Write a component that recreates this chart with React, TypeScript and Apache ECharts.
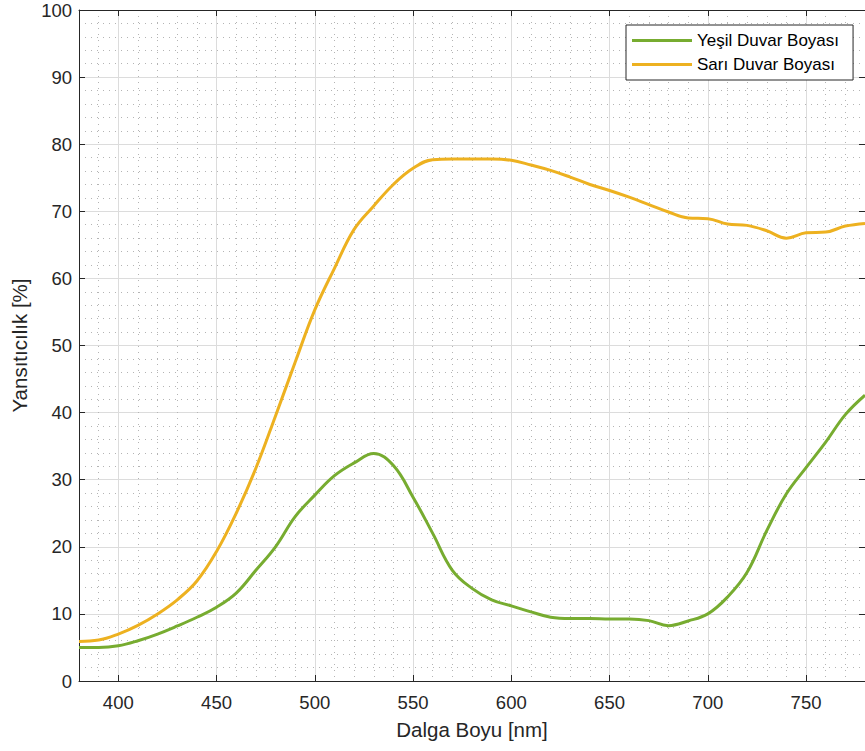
import React, { useEffect, useRef } from 'react';
import * as echarts from 'echarts';

const wavelengths = [
  380, 390, 400, 410, 420, 430, 440, 450, 460, 470, 480, 490, 500, 510, 520, 530, 540, 550, 560, 570, 580,
  590, 600, 610, 620, 630, 640, 650, 660, 670, 680, 690, 700, 710, 720, 730, 740, 750, 760, 770, 780,
];
const greenValues = [
  5.0, 5.0, 5.25, 6.0, 7.0, 8.2, 9.5, 11.0, 13.1, 16.5, 20.0, 24.5, 27.7, 30.6, 32.5, 33.9, 32.1, 27.4, 22.0, 16.5, 13.8,
  12.1, 11.2, 10.3, 9.5, 9.3, 9.3, 9.25, 9.25, 9.0, 8.25, 8.95, 10.0, 12.5, 16.2, 22.4, 27.9, 31.8, 35.6, 39.7, 42.6,
];
const yellowValues = [
  5.9, 6.1, 7.0, 8.3, 10.0, 12.1, 14.9, 19.3, 25.0, 31.7, 39.5, 47.5, 55.3, 61.5, 67.3, 70.8, 74.0, 76.4, 77.7, 77.8, 77.8,
  77.8, 77.6, 76.9, 76.1, 75.1, 74.0, 73.1, 72.1, 71.0, 69.9, 69.0, 68.9, 68.1, 67.9, 67.1, 66.0, 66.8, 66.9, 67.8, 68.2,
];
const seriesNames = ['Yeşil Duvar Boyası', 'Sarı Duvar Boyası'];
const seriesColors = ['#77AC30', '#EDB120'];
const xTitle = 'Dalga Boyu [nm]';
const yTitle = 'Yansıtıcılık [%]';
const xMin = 380;
const xMax = 780;
const yMin = 0;
const yMax = 100;
const yStep = 10;

const FONT = '"Liberation Sans", Arial, Helvetica, sans-serif';
const INK = '#262626';

export default function App() {
  const ref = useRef<HTMLDivElement>(null);
  useEffect(() => {
    if (!ref.current) return;
    const chart = echarts.init(ref.current, undefined, { renderer: 'svg' });
    const axisLine = { show: true, onZero: false, lineStyle: { color: INK, width: 1 } };
    const axisTick = { show: true, inside: true, length: 6, lineStyle: { color: INK, width: 1 } };
    const minorTick = { show: false, splitNumber: 5 };
    const majorSplit = { show: true, lineStyle: { color: '#dcdcdc', width: 1 } };
    const minorSplit = { show: true, lineStyle: { color: '#b4b4b4', width: 1, type: [1, 5] } };
    const labelStyle = { color: INK, fontSize: 18.5, fontFamily: FONT };
    const toPairs = (vals: number[]) => wavelengths.map((w, i) => [w, vals[i]]);

    chart.setOption({
      animation: false,
      backgroundColor: '#ffffff',
      grid: { left: 79, top: 10, width: 788, height: 671, containLabel: false },
      legend: {
        data: seriesNames,
        orient: 'vertical',
        left: 626,
        top: 25,
        icon: 'rect',
        itemWidth: 60,
        itemHeight: 3,
        itemGap: 7,
        padding: [7, 14, 7, 6],
        backgroundColor: '#ffffff',
        borderColor: INK,
        borderWidth: 1,
        borderRadius: 0,
        textStyle: { color: '#000000', fontSize: 17, fontFamily: FONT },
      },
      xAxis: [
        {
          type: 'value',
          position: 'bottom',
          min: xMin,
          max: xMax,
          splitNumber: 8,
          axisLine,
          axisTick,
          minorTick,
          splitLine: majorSplit,
          minorSplitLine: minorSplit,
          axisLabel: { ...labelStyle, margin: 12, showMinLabel: false, showMaxLabel: false },
          name: xTitle,
          nameLocation: 'middle',
          nameGap: 38,
          nameTextStyle: { color: INK, fontSize: 20.5, fontFamily: FONT },
        },
        {
          type: 'value',
          position: 'top',
          min: xMin,
          max: xMax,
          splitNumber: 8,
          axisLine,
          axisTick,
          minorTick,
          splitLine: { show: false },
          axisLabel: { show: false },
        },
      ],
      yAxis: [
        {
          type: 'value',
          position: 'left',
          min: yMin,
          max: yMax,
          interval: yStep,
          axisLine,
          axisTick,
          minorTick,
          splitLine: majorSplit,
          minorSplitLine: minorSplit,
          axisLabel: { ...labelStyle, margin: 7 },
          name: yTitle,
          nameLocation: 'middle',
          nameGap: 48,
          nameTextStyle: { color: INK, fontSize: 20.5, fontFamily: FONT },
        },
        {
          type: 'value',
          position: 'right',
          min: yMin,
          max: yMax,
          interval: yStep,
          axisLine,
          axisTick,
          minorTick,
          splitLine: { show: false },
          axisLabel: { show: false },
        },
      ],
      series: [
        {
          name: seriesNames[0],
          type: 'line',
          data: toPairs(greenValues),
          symbol: 'none',
          showSymbol: false,
          smooth: 0.4,
          color: seriesColors[0],
          lineStyle: { color: seriesColors[0], width: 3 },
          z: 3,
        },
        {
          name: seriesNames[1],
          type: 'line',
          data: toPairs(yellowValues),
          symbol: 'none',
          showSymbol: false,
          smooth: 0.4,
          color: seriesColors[1],
          lineStyle: { color: seriesColors[1], width: 3 },
          z: 3,
        },
      ],
    });
    return () => chart.dispose();
  }, []);
  return (
    <div
      ref={ref}
      style={{ position: 'fixed', left: 0, top: 0, width: 865, height: 751, background: '#fff' }}
    />
  );
}
